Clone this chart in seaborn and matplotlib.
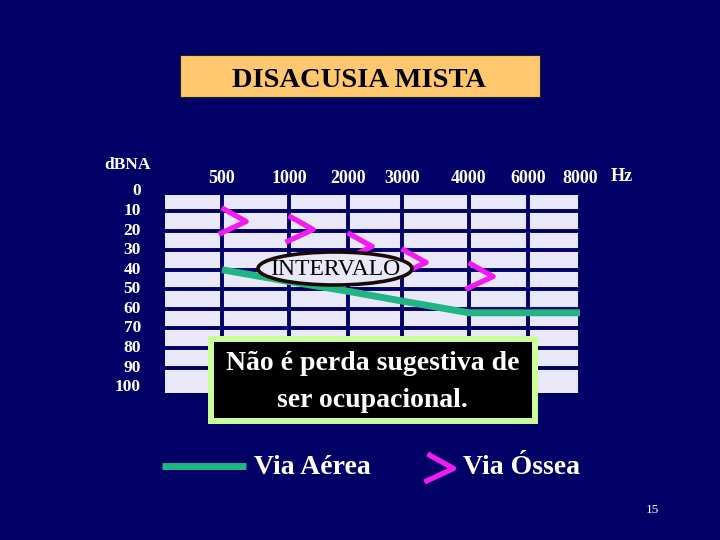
import numpy as np
import matplotlib
matplotlib.use("Agg")
import matplotlib.pyplot as plt
from matplotlib.patches import Rectangle, Ellipse
from matplotlib.lines import Line2D
from matplotlib.markers import MarkerStyle
from matplotlib.path import Path
import seaborn as sns

# audiograma - disacusia mista
freqs = ["500", "1000", "2000", "3000", "4000", "6000", "8000"]
via_aerea = [40, 46, 51, 56, 62, 62, 62]
freqs_ossea = ["500", "1000", "2000", "3000", "4000"]
via_ossea = [15, 19, 28, 36, 43]
db_ticks = [0, 10, 20, 30, 40, 50, 60, 70, 80, 90, 100]

# layout das colunas do slide (largura desigual)
col_x = [57, 124, 183, 237, 304, 363, 415]

navy = "#000066"
lavanda = "#E8E8F8"
verde = "#22B584"
magenta = "#F21CF2"

sns.set_theme(style="white", rc={"figure.facecolor": navy, "axes.facecolor": lavanda})
plt.rcParams["font.family"] = ["Liberation Serif", "DejaVu Serif"]

fig = plt.figure(figsize=(7.2, 5.4), dpi=100)

def fx(px):
    return px / 720

def fy(py):
    return 1 - py / 540

# grade do audiograma
ax = fig.add_axes([fx(165), fy(393), 415 / 720, 198 / 540])
xpos = dict(zip(freqs, col_x))
ax.set_xlim(0, col_x[-1])
ax.set_ylim(103, 1.8)
ax.set_xticks(col_x, freqs)
ax.set_yticks(db_ticks[1:-1])
ax.tick_params(axis="x", top=True, labeltop=True, bottom=False, labelbottom=False,
               length=0, pad=6, labelsize=13, labelcolor="white")
ax.tick_params(axis="y", left=False, labelleft=False, length=0)
for lab in ax.get_xticklabels():
    lab.set_fontweight("bold")
ax.grid(True, color=navy, lw=2.8)
for s in ax.spines.values():
    s.set_visible(False)

for db in db_ticks:
    ax.text(-0.058, db, str(db), transform=ax.get_yaxis_transform(), ha="right",
            va="center", color="white", fontsize=12.5, fontweight="bold")

# via aerea
sns.lineplot(x=[xpos[f] for f in freqs], y=via_aerea, ax=ax, color=verde, lw=5, zorder=3,
             solid_capstyle="butt", clip_on=False)

# via ossea: simbolo ">"
chevron = Path([(-1, 14), (24, 0), (-4, -13)], [Path.MOVETO, Path.LINETO, Path.LINETO])
seta = MarkerStyle(chevron, joinstyle="miter", capstyle="butt")
ax.plot([xpos[f] for f in freqs_ossea], via_ossea, ls="none", marker=seta, ms=34,
        mfc="none", mec=magenta, mew=3.8, zorder=4, clip_on=False)

# textos da figura
fig.text(fx(127.5), fy(165), "dBNA", ha="center", va="center", color="white",
         fontsize=12.5, fontweight="bold")
fig.text(fx(622), fy(177), "Hz", ha="center", va="center", color="white",
         fontsize=13, fontweight="bold")

# titulo
fig.add_artist(Rectangle((fx(180), fy(97)), 360 / 720, 42 / 540, transform=fig.transFigure,
                         fc="#FFC86E", ec="#222222", lw=0.8))
fig.text(fx(359), fy(87), "DISACUSIA MISTA", ha="center", va="baseline", color="black",
         fontsize=20.5, fontweight="bold")

# INTERVALO
fig.add_artist(Ellipse((fx(335), fy(268.5)), 154 / 720, 33 / 540, transform=fig.transFigure,
                       fc=lavanda, ec="#1a0a05", lw=2.6, zorder=2))
fig.text(fx(335), fy(269), "INTERVALO", ha="center", va="center", color="black",
         fontsize=17, zorder=3)

# caixa preta
fig.add_artist(Rectangle((fx(211), fy(421)), 324 / 720, 82 / 540, transform=fig.transFigure,
                         fc="black", ec="#CCFF99", lw=4.3, zorder=4))
fig.text(fx(372.5), fy(370), "Não é perda sugestiva de", ha="center", va="baseline",
         color="white", fontsize=20, fontweight="bold", zorder=5)
fig.text(fx(372), fy(407), "ser ocupacional.", ha="center", va="baseline",
         color="white", fontsize=20, fontweight="bold", zorder=5)

# legenda
fig.add_artist(Line2D([fx(162), fx(246)], [fy(465.5), fy(465.5)], transform=fig.transFigure,
                      color=verde, lw=5, solid_capstyle="butt"))
fig.text(fx(253.6), fy(473.6), "Via Aérea", ha="left", va="baseline", color="white",
         fontsize=20, fontweight="bold")
fig.add_artist(Line2D([fx(428)], [fy(468)], transform=fig.transFigure, ls="none",
                      marker=seta, ms=36, mfc="none", mec=magenta, mew=3.8))
fig.text(fx(462.5), fy(473.6), "Via Óssea", ha="left", va="baseline", color="white",
         fontsize=20, fontweight="bold")

fig.text(fx(652), fy(510), "15", ha="center", va="center", color="white", fontsize=9.5)

fig.savefig("out.png", dpi=100, facecolor=navy)
